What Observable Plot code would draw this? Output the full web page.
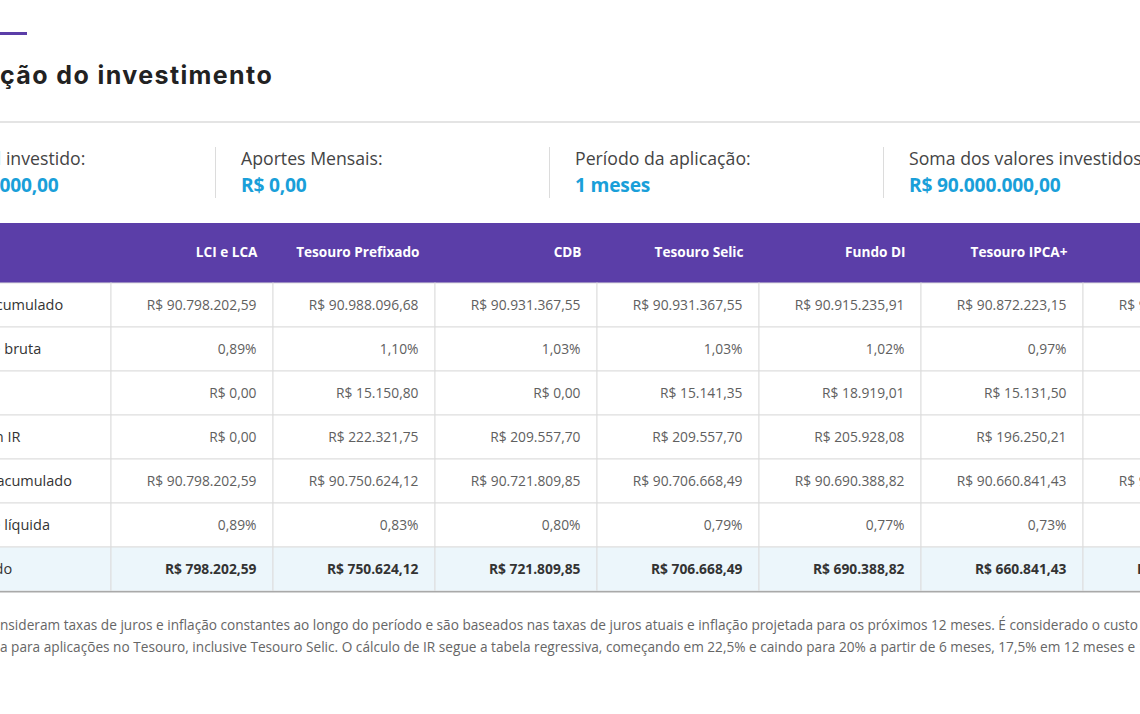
<!DOCTYPE html>
<html><head><meta charset="utf-8">
<script src="https://cdn.jsdelivr.net/npm/d3@7"></script>
<script src="https://cdn.jsdelivr.net/npm/@observablehq/plot@0.6"></script>
<style>
html,body{margin:0;padding:0}
body{width:1140px;height:714px;overflow:hidden;background:#fff;font-family:"Open Sans",sans-serif;position:relative}
.abs{position:absolute;white-space:nowrap}
.pre{position:absolute;right:100%;top:0}
.lab{font-size:17.7px;color:#444;line-height:24px}
.val{font-size:19.2px;font-weight:700;color:#1a9fd9;line-height:24px;letter-spacing:-0.2px}
.note{font-size:13.65px;color:#666;line-height:18px}
</style></head><body>
<div class="abs" style="left:0;top:32px;width:27px;height:3px;background:#5b3ea8"></div>
<div class="abs" style="left:0;top:60px;font:700 25px Inter, sans-serif;color:#222;line-height:30px;letter-spacing:1.4px"><span class="pre">Simula</span>ção do investimento</div>
<div class="abs" style="left:0;top:121px;width:1140px;height:2px;background:#e4e4e4"></div>
<div id="info"></div>
<div id="chart" class="abs" style="left:0;top:222px"></div>
<div id="notes"></div>
<script>
// ---- data ----
const infoLabels = ["Valor inicial investido:", "Aportes Mensais:", "Período da aplicação:", "Soma dos valores investidos:"];
const infoValues = ["R$ 90.000.000,00", "R$ 0,00", "1 meses", "R$ 90.000.000,00"];

const columns = ["LCI e LCA", "Tesouro Prefixado", "CDB", "Tesouro Selic", "Fundo DI", "Tesouro IPCA+", "Poupança"];
const rowLabels = ["Valor bruto acumulado", "Rentabilidade bruta", "Custódia", "Descontos em IR", "Valor líquido acumulado", "Rentabilidade líquida", "Retorno líquido"];

const valorBruto = ["R$ 90.798.202,59", "R$ 90.988.096,68", "R$ 90.931.367,55", "R$ 90.931.367,55", "R$ 90.915.235,91", "R$ 90.872.223,15", "R$ 90.568.236,40"];
const rentBruta = ["0,89%", "1,10%", "1,03%", "1,03%", "1,02%", "0,97%", "0,63%"];
const custodia = ["R$ 0,00", "R$ 15.150,80", "R$ 0,00", "R$ 15.141,35", "R$ 18.919,01", "R$ 15.131,50", "R$ 0,00"];
const descontoIR = ["R$ 0,00", "R$ 222.321,75", "R$ 209.557,70", "R$ 209.557,70", "R$ 205.928,08", "R$ 196.250,21", "R$ 0,00"];
const valorLiquido = ["R$ 90.798.202,59", "R$ 90.750.624,12", "R$ 90.721.809,85", "R$ 90.706.668,49", "R$ 90.690.388,82", "R$ 90.660.841,43", "R$ 90.568.236,40"];
const rentLiquida = ["0,89%", "0,83%", "0,80%", "0,79%", "0,77%", "0,73%", "0,63%"];
const lucroLiquido = ["R$ 798.202,59", "R$ 750.624,12", "R$ 721.809,85", "R$ 706.668,49", "R$ 690.388,82", "R$ 660.841,43", "R$ 568.236,40"];

const noteLines = [
  ["Os cálculos co", "nsideram taxas de juros e inflação constantes ao longo do período e são baseados nas taxas de juros atuais e inflação projetada para os próximos 12 meses. É considerado o custo de custódia da B3"],
  ["de 0,20% ao ano, cobrad", "a para aplicações no Tesouro, inclusive Tesouro Selic. O cálculo de IR segue a tabela regressiva, começando em 22,5% e caindo para 20% a partir de 6 meses, 17,5% em 12 meses e 15% acima de 24 meses."]
];

// ---- info row ----
const info = document.getElementById("info");
infoLabels.forEach((l, i) => {
  const left = -93 + i * 334;
  const sep = document.createElement("div");
  sep.className = "abs";
  sep.style.cssText = `left:${left - 26}px;top:147px;width:1px;height:51px;background:#dcdcdc`;
  info.appendChild(sep);
  const a = document.createElement("div");
  a.className = "abs lab"; a.style.left = left + "px"; a.style.top = "146px"; a.textContent = l;
  info.appendChild(a);
  const b = document.createElement("div");
  b.className = "abs val"; b.style.left = left + "px"; b.style.top = "173px"; b.textContent = infoValues[i];
  info.appendChild(b);
});

// ---- notes ----
const notes = document.getElementById("notes");
noteLines.forEach((ln, i) => {
  const d = document.createElement("div");
  d.className = "abs note"; d.style.left = "0px"; d.style.top = (616 + i * 22) + "px";
  const p = document.createElement("span"); p.className = "pre"; p.textContent = ln[0];
  d.appendChild(p); d.appendChild(document.createTextNode(ln[1]));
  notes.appendChild(d);
});

// ---- table ----
const seriesRows = [valorBruto, rentBruta, custodia, descontoIR, valorLiquido, rentLiquida, lucroLiquido];
const HEAD = "__head", LAB = "__label";
const xDomain = [LAB, ...columns];
const yDomain = [HEAD, ...rowLabels];
const bw = 162;
const x0 = -51;
const pad = 17;
const cells = [];
seriesRows.forEach((arr, r) => arr.forEach((v, c) => cells.push({row: rowLabels[r], col: columns[c], value: v, total: r === rowLabels.length - 1})));
const gridCells = [];
rowLabels.forEach((r, ri) => xDomain.forEach(c => gridCells.push({row: r, col: c, total: ri === rowLabels.length - 1})));
const lastRow = rowLabels[rowLabels.length - 1];

const chart = Plot.plot({
  width: 1140, height: 374,
  margin: 0,
  style: {fontFamily: "'Open Sans', sans-serif", background: "transparent", overflow: "hidden"},
  x: {type: "band", domain: xDomain, range: [x0, x0 + bw * xDomain.length], padding: 0, axis: null},
  y: {type: "band", domain: yDomain, range: [16, 16 + 44.3 * yDomain.length], padding: 0, axis: null},
  marks: [
    Plot.cell(xDomain, {x: d => d, y: () => HEAD, fill: "#5b3ea8", insetTop: -16}),
    Plot.cell(gridCells, {x: "col", y: "row", fill: d => d.total ? "#ecf6fb" : "#ffffff", stroke: "#dddddd", strokeWidth: 1}),
    Plot.ruleX(xDomain, {x: d => d, y: () => HEAD, dx: bw / 2, insetTop: 9, stroke: "#a797dc", strokeWidth: 1}),
    Plot.ruleY([lastRow], {y: d => d, dy: 22.15, stroke: "#a9a9a9", strokeWidth: 1.5}),
    Plot.text(columns, {x: d => d, y: () => HEAD, text: d => d, textAnchor: "end", dx: bw / 2 - pad + 1, dy: -9, fill: "#ffffff", fontWeight: 700, fontSize: 13.6}),
    Plot.text(cells.filter(d => !d.total), {x: "col", y: "row", text: "value", textAnchor: "end", dx: bw / 2 - pad, fill: "#606060", fontSize: 13.8}),
    Plot.text(cells.filter(d => d.total), {x: "col", y: "row", text: "value", textAnchor: "end", dx: bw / 2 - pad, fill: "#333333", fontWeight: 700, fontSize: 13.8}),
    Plot.text(rowLabels, {x: () => LAB, y: d => d, text: d => d, textAnchor: "start", dx: -123, fill: "#333333", fontWeight: d => d === lastRow ? 700 : 600, fontSize: 14.5})
  ]
});
document.getElementById("chart").appendChild(chart);
</script>
</body></html>
